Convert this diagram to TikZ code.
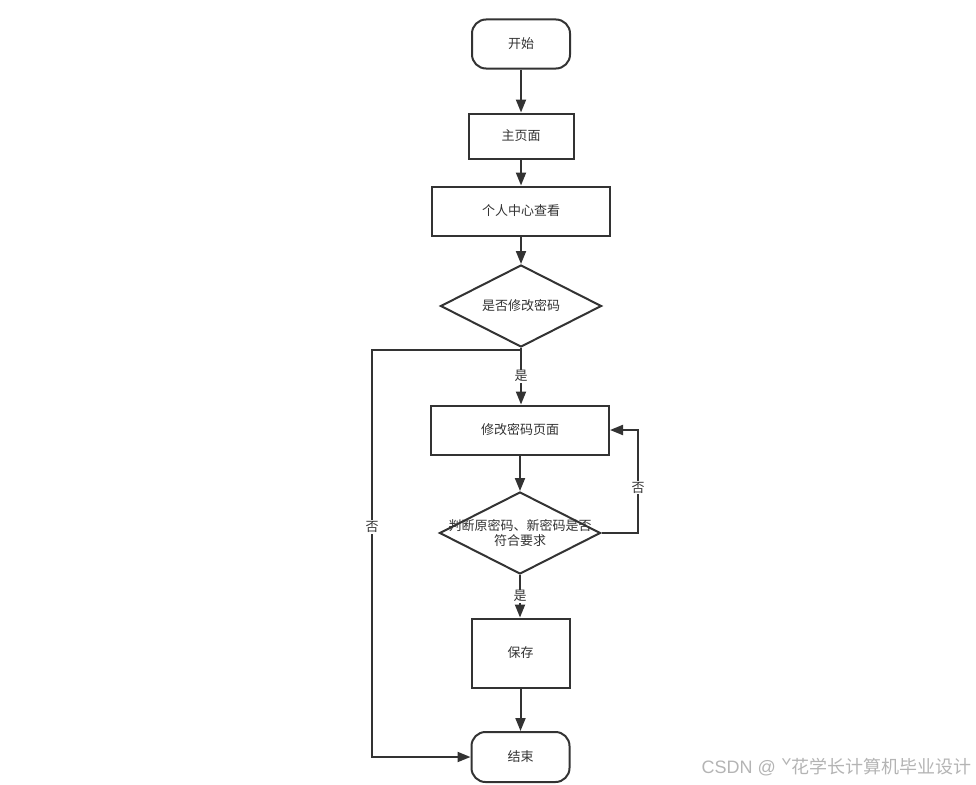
\documentclass[tikz,border=0pt]{standalone}
\usepackage{fontspec}
\setmainfont{Noto Sans CJK SC}
\newfontfamily\latinwm{Liberation Sans}
\usetikzlibrary{shapes.geometric,arrows.meta}
\definecolor{ink}{HTML}{333333}
\definecolor{wm}{HTML}{B4B4B4}
\tikzset{
  base/.style={draw=ink, line width=2pt, text=ink, font=\fontsize{13}{15}\selectfont, inner sep=0pt, align=center},
  term/.style={base, rounded corners=14pt, minimum width=98pt, minimum height=49pt},
  proc/.style={base, rectangle},
  deci/.style={base, diamond, aspect=1.96, minimum width=161pt, minimum height=82pt},
  conn/.style={draw=ink, line width=2pt, -{Triangle[length=13pt,width=10pt]}},
  lbl/.style={fill=white, text=ink, font=\fontsize{13}{15}\selectfont, inner sep=1pt},
}
\begin{document}
\begin{tikzpicture}[x=1pt,y=-1pt]
\useasboundingbox (0,0) rectangle (976,784);
\node[term] (start) at (521,44) {开始};
\node[proc, minimum width=105pt, minimum height=45pt] (home) at (521,136) {主页面};
\node[proc, minimum width=178pt, minimum height=49pt] (center) at (521,211) {个人中心查看};
\node[deci] (q1) at (521,306) {是否修改密码};
\node[proc, minimum width=178pt, minimum height=49pt] (page) at (520,430) {修改密码页面};
\node[deci] (q2) at (520,533) {};
\node[text=ink, font=\fontsize{13}{15}\selectfont, align=center] (q2t) at (520,533) {判断原密码、新密码是否\\符合要求};
\node[proc, minimum width=98pt, minimum height=69pt] (save) at (520.5,653) {保存};
\node[term, minimum height=50pt] (end) at (520.5,757) {结束};
\coordinate (l1) at (372,350);
\coordinate (l2) at (372,757);
\coordinate (r1) at (638,533);
\coordinate (r2) at (638,430);
\draw[conn] (start) -- (home);
\draw[conn] (home) -- (center);
\draw[conn] (center) -- (q1);
\draw[conn] (q1.south) -- node[lbl, pos=0.5] {是} (q1.south |- page.north);
\draw[conn] (page) -- (q2);
\draw[conn] (q2.south) -- node[lbl, pos=0.5] {是} (q2.south |- save.north);
\draw[conn] (save) -- (end);
\draw[conn] (q1.south) -- (q1.south |- l1) -- (l1) -- node[lbl, pos=0.435] {否} (l2) -- (end.west);
\draw[conn] (q2.east) -- (r1) -- node[lbl, pos=0.44] {否} (r2) -- (page.east);
\node[text=wm, font=\fontsize{18}{20}\selectfont, anchor=east, inner sep=0pt] (wmark) at (972,767) {{\latinwm CSDN @ }ˇ花学长计算机毕业设计};
\end{tikzpicture}
\end{document}
